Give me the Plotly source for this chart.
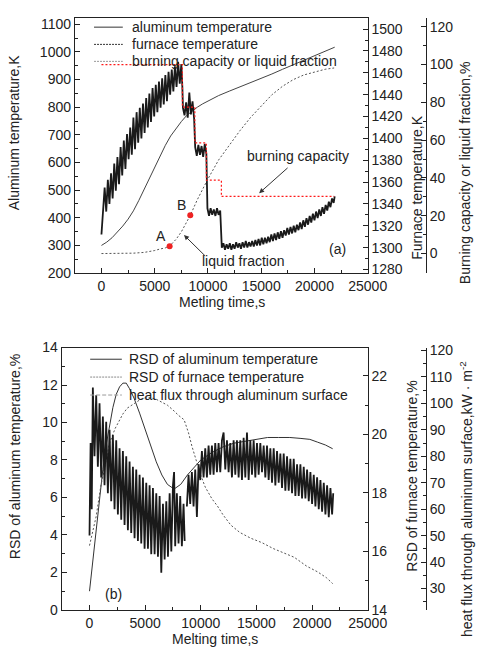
import plotly.graph_objects as go

# ---------------- top panel data ----------------
alu_time = [0, 500, 1000, 1500, 2000, 2500, 3000, 3500, 4000, 4500, 5000, 5500, 6000, 6500, 7000,
            7500, 8000, 8500, 9000, 9500, 10000, 11000, 12000, 13000, 14000, 15000, 16000, 17000,
            18000, 19000, 20000, 21000, 21900]
alu_temp = [300, 312, 328, 348, 370, 395, 425, 462, 502, 543, 585, 626, 662, 696, 723,
            748, 770, 786, 800, 812, 823, 842, 858, 873, 888, 903, 920, 937,
            953, 970, 986, 1001, 1017]

furnace_time = [0, 150, 300, 450, 600, 750, 900, 1050, 1200, 1350, 1500, 1650, 1800, 1950, 2100,
                2250, 2400, 2550, 2700, 2850, 3000, 3150, 3300, 3450, 3600, 3750, 3900, 4050, 4200,
                4350, 4500, 4650, 4800, 4950, 5100, 5250, 5400, 5550, 5700, 5850, 6000, 6150, 6300,
                6450, 6600, 6750, 6900, 7050, 7200, 7350, 7500,
                7600, 7650, 7800, 7950, 8100, 8250, 8400, 8550, 8700,
                8800, 8950, 9100, 9250, 9400, 9550, 9700, 9850,
                9950, 10100, 10250, 10400, 10550, 10700, 10850, 11000, 11150,
                11300, 11450, 11600, 11750, 11900, 12050, 12200, 12350, 12500, 12650, 12800, 12950,
                13100, 13250, 13400, 13550, 13700, 13850, 14000, 14150, 14300, 14450, 14600, 14750,
                14900, 15050, 15200, 15350, 15500, 15650, 15800, 15950, 16100, 16250, 16400, 16550,
                16700, 16850, 17000, 17150, 17300, 17450, 17600, 17750, 17900, 18050, 18200, 18350,
                18500, 18650, 18800, 18950, 19100, 19250, 19400, 19550, 19700, 19850, 20000, 20150,
                20300, 20450, 20600, 20750, 20900, 21050, 21200, 21350, 21500, 21650, 21800, 21900]
furnace_temp = [1312, 1330, 1355, 1333, 1362, 1340, 1368, 1345, 1377, 1352, 1383, 1358, 1392, 1366, 1398,
                1372, 1404, 1381, 1410, 1385, 1419, 1390, 1424, 1396, 1428, 1400, 1432, 1405, 1437,
                1410, 1441, 1415, 1446, 1420, 1449, 1424, 1452, 1428, 1455, 1431, 1458, 1434, 1461,
                1440, 1463, 1443, 1466, 1447, 1470, 1450, 1468,
                1446, 1428, 1421, 1433, 1419, 1442, 1422, 1434, 1418,
                1392, 1384, 1394, 1385, 1393, 1383, 1395, 1386,
                1336, 1329, 1336, 1330, 1335, 1329, 1336, 1330, 1334,
                1300, 1304, 1298, 1303, 1299, 1304, 1298, 1303, 1299, 1305, 1300, 1304,
                1299, 1305, 1300, 1306, 1300, 1305, 1301, 1306, 1301, 1307, 1302, 1308,
                1302, 1309, 1303, 1309, 1304, 1310, 1305, 1312, 1306, 1313, 1307, 1314,
                1308, 1315, 1309, 1316, 1311, 1318, 1312, 1319, 1313, 1320, 1314, 1321,
                1316, 1323, 1317, 1325, 1319, 1327, 1321, 1329, 1323, 1331, 1325, 1333,
                1327, 1335, 1329, 1337, 1331, 1339, 1334, 1342, 1337, 1345, 1341, 1347]

burn_time = [0, 7600, 8770, 9850, 11260, 21850]
burn_capacity = [100, 77.5, 58.6, 38.8, 30.2, 30.2]

liquid_time = [0, 1000, 2000, 3000, 4000, 4500, 5000, 5500, 6000, 6400, 7000, 7500, 8000, 8340,
               9000, 9500, 10000, 11000, 12000, 13000, 14000, 15000, 16000, 17000, 18000, 19000,
               20000, 21000, 21850]
liquid_fraction = [0, 0, 0, 0.2, 0.6, 1.0, 1.6, 2.4, 3.0, 4.0, 7.5, 11.5, 16.5, 20.2,
                   28.5, 34.0, 39.5, 49.5, 57.5, 65.0, 72.0, 78.0, 84.0, 88.5, 92.0, 94.5,
                   96.2, 97.5, 98.2]

point_labels = ["A", "B"]
point_time = [6400, 8340]
point_value = [3.8, 20.2]

top_legend = ["aluminum temperature", "furnace temperature", "burning capacity or liquid fraction"]

# ---------------- bottom panel data ----------------
rsd_alu_time = [0, 300, 600, 900, 1200, 1500, 1800, 2100, 2400, 2700, 3000, 3300, 3600, 4000, 4500,
                5000, 5500, 6000, 6500, 7000, 7600, 8200, 8800, 9400, 10000, 11000, 12000, 13000,
                14000, 15000, 16000, 17000, 18000, 19000, 19800, 20500, 21200, 21850]
rsd_alu = [1.0, 2.7, 4.4, 6.0, 7.5, 8.8, 9.9, 10.8, 11.5, 11.9, 12.1, 12.1, 11.8, 11.3, 10.5,
           9.6, 8.7, 7.9, 7.2, 6.7, 6.45, 6.7, 7.2, 7.6, 8.0, 8.4, 8.7, 8.9,
           9.0, 9.1, 9.2, 9.2, 9.2, 9.15, 9.1, 8.95, 8.8, 8.6]

rsd_fur_time = [0, 300, 600, 1000, 1400, 1800, 2300, 2700, 3000, 3400, 3800, 4200, 4600, 5000, 5500,
                6000, 6500, 7000, 7600, 8000, 8500, 8900, 9200, 9500, 10000, 10400, 11000, 11500,
                12000, 12700, 13500, 14500, 15500, 16500, 17500, 18400, 19500, 20500, 21300, 21850]
rsd_fur = [16.2, 16.7, 17.2, 18.2, 19.0, 19.7, 20.2, 20.5, 20.7, 20.9, 21.0, 21.1, 21.2, 21.25, 21.25,
           21.2, 21.1, 21.0, 20.8, 20.65, 20.5, 20.05, 19.6, 19.2, 18.6, 18.2, 17.8, 17.55,
           17.25, 16.9, 16.65, 16.45, 16.3, 16.1, 15.95, 15.8, 15.5, 15.3, 15.1, 14.9]

flux_time = [0, 100, 200, 300, 450, 600, 750, 900, 1050, 1200, 1350, 1500, 1650, 1800, 1950, 2100,
             2250, 2400, 2550, 2700, 2850, 3000, 3150, 3300, 3450, 3600, 3750, 3900, 4050, 4200,
             4350, 4500, 4650, 4800, 4950, 5100, 5250, 5400, 5550, 5700, 5850, 6000, 6150, 6300,
             6450, 6600, 6750, 6900, 7050, 7200, 7350, 7500, 7600, 7700, 7850, 8000, 8150, 8300,
             8450, 8550, 8620, 8750, 8900, 9050, 9200, 9350, 9500, 9650, 9800, 9950, 10100, 10250,
             10400, 10550, 10700, 10850, 11000, 11150, 11300, 11450, 11600, 11750, 11900, 12050,
             12200, 12350, 12500, 12650, 12800, 12950, 13100, 13250, 13400, 13550, 13700, 13850,
             14000, 14150, 14300, 14450, 14600, 14750, 14900, 15050, 15200, 15350, 15500, 15650,
             15800, 15950, 16100, 16250, 16400, 16550, 16700, 16850, 17000, 17150, 17300, 17450,
             17600, 17750, 17900, 18050, 18200, 18350, 18500, 18650, 18800, 18950, 19100, 19250,
             19400, 19550, 19700, 19850, 20000, 20150, 20300, 20450, 20600, 20750, 20900, 21050,
             21200, 21350, 21500, 21650, 21800, 21900]
heat_flux = [50, 85, 60, 106, 80, 103, 76, 100, 72, 95, 69, 93, 66, 90, 63, 88,
             60, 86, 58, 83, 56, 82, 54, 80, 52, 78, 51, 76, 49, 75,
             48, 73, 47, 72, 45, 70, 45, 69, 43, 68, 43, 66, 42, 65,
             36, 62, 41, 63, 42, 66, 44, 69, 74, 46, 66, 47, 65, 46,
             62, 48, None, 61, 73, 62, 74, 61, 75, 57, 77, 71, 82, 72,
             83, 72, 84, 73, 84, 73, 85, 74, 85, 74, 86, 89,
             75, 86, 74, 85, 72, 86, 73, 86, 72, 86, 71, 87,
             72, 89, 71, 86, 73, 86, 72, 85, 73, 85, 74, 84,
             72, 84, 71, 83, 70, 83, 69, 82, 70, 81, 68, 81,
             67, 80, 67, 79, 66, 79, 65, 77, 65, 77, 64, 76,
             64, 75, 63, 74, 62, 73, 61, 72, 60, 71, 59, 70,
             58, 69, 57, 68, 58, 66]

bottom_legend = ["RSD of aluminum temperature", "RSD of furnace temperature",
                 "heat flux through aluminum surface"]

# ---------------- figure ----------------
W, H = 492, 656
FONT = "Liberation Sans, Arial, sans-serif"
TXT = "#222222"

def px_x(p):
    return p / W

def px_y(p):
    return 1 - p / H

fig = go.Figure()

NOISE = dict(color="#1a1a1a", width=1.8)

# top panel traces
fig.add_trace(go.Scatter(x=alu_time, y=alu_temp, mode="lines", xaxis="x", yaxis="y",
                         line=dict(color="#444444", width=1), showlegend=False))
fig.add_trace(go.Scatter(x=furnace_time, y=furnace_temp, mode="lines", xaxis="x", yaxis="y2",
                         line=NOISE, showlegend=False))
fig.add_trace(go.Scatter(x=liquid_time, y=liquid_fraction, mode="lines", xaxis="x", yaxis="y3",
                         line=dict(color="#555555", width=1, dash="2px,2px"), showlegend=False))
fig.add_trace(go.Scatter(x=burn_time, y=burn_capacity, mode="lines", xaxis="x", yaxis="y3",
                         line=dict(color="#ff1a1a", width=1.2, dash="2px,2px", shape="hv"),
                         showlegend=False))
fig.add_trace(go.Scatter(x=point_time, y=point_value, mode="markers", xaxis="x", yaxis="y3",
                         marker=dict(color="#ee2222", size=6), showlegend=False))

# bottom panel traces
fig.add_trace(go.Scatter(x=rsd_alu_time, y=rsd_alu, mode="lines", xaxis="x2", yaxis="y4",
                         line=dict(color="#333333", width=1), showlegend=False))
fig.add_trace(go.Scatter(x=rsd_fur_time, y=rsd_fur, mode="lines", xaxis="x2", yaxis="y5",
                         line=dict(color="#555555", width=1, dash="2px,2px"), showlegend=False))
fig.add_trace(go.Scatter(x=flux_time, y=heat_flux, mode="lines", xaxis="x2", yaxis="y6",
                         line=NOISE, connectgaps=False, showlegend=False))

tickfont = dict(family=FONT, size=14, color=TXT)
base = dict(showgrid=False, zeroline=False, showline=True, linecolor="#222222", linewidth=1,
            tickfont=tickfont, tickcolor="#222222", tickwidth=1, tickformat="d")

top_x = [px_x(78), px_x(383.3)]
bot_x = [px_x(64.3), px_x(383.3)]
top_y = [px_y(271.7), px_y(10.7)]
bot_y = [px_y(617), px_y(348)]
third_pos = px_x(444)

def minor(dt, t0):
    return dict(ticks="inside", ticklen=3, dtick=dt, tick0=t0, tickcolor="#222222")

fig.update_layout(
    width=W, height=H, margin=dict(l=0, r=0, t=0, b=0),
    paper_bgcolor="white", plot_bgcolor="rgba(0,0,0,0)",
    font=dict(family=FONT, size=14, color=TXT),
    showlegend=False,
    xaxis=dict(base, domain=top_x, range=[-2500, 25000], anchor="y", mirror=True,
               ticks="inside", ticklen=5, dtick=5000, tick0=0, minor=minor(2500, 0)),
    yaxis=dict(base, domain=top_y, range=[200, 1121], anchor="x",
               ticks="inside", ticklen=5, dtick=100, tick0=0, minor=minor(50, 0)),
    yaxis2=dict(base, overlaying="y", side="right", anchor="x", range=[1276.7, 1509.8],
                ticks="inside", ticklen=5, dtick=20, tick0=1280, minor=minor(10, 1280)),
    yaxis3=dict(base, overlaying="y", side="right", anchor="free", position=third_pos,
                range=[-10.33, 124.4], ticks="inside", ticklen=5, dtick=20, tick0=0,
                minor=minor(10, 0)),
    xaxis2=dict(base, domain=bot_x, range=[-2500, 25000], anchor="y4", mirror=True,
                ticks="inside", ticklen=5, dtick=5000, tick0=0, minor=minor(2500, 0)),
    yaxis4=dict(base, domain=bot_y, range=[0, 14], anchor="x2",
                ticks="inside", ticklen=5, dtick=2, tick0=0, minor=minor(1, 0)),
    yaxis5=dict(base, overlaying="y4", side="right", anchor="x2", range=[14, 22.97],
                ticks="inside", ticklen=5, dtick=2, tick0=14, minor=minor(1, 14)),
    yaxis6=dict(base, overlaying="y4", side="right", anchor="free", position=third_pos,
                range=[21.9, 121.1], ticks="inside", ticklen=5, dtick=10, tick0=0,
                minor=minor(5, 0)),
)

def text_ann(text, x, y, angle=0, size=14, color=TXT, xanchor="center"):
    fig.add_annotation(text=text, x=px_x(x), y=px_y(y), xref="paper", yref="paper",
                       showarrow=False, textangle=angle, xanchor=xanchor, yanchor="middle",
                       font=dict(family=FONT, size=size, color=color))

def legend_line(x0, x1, y, color, dash, width=1):
    fig.add_shape(type="line", xref="paper", yref="paper", x0=px_x(x0), x1=px_x(x1),
                  y0=px_y(y), y1=px_y(y), line=dict(color=color, width=width, dash=dash))

# manual legends (top)
top_rows = [19.7, 37.3, 54.7]
top_styles = [("#777777", "solid", 1.5), ("#333333", "2px,1px", 1), ("#999999", "2px,1px", 1)]
for name, yy, (c, d, w) in zip(top_legend, top_rows, top_styles):
    legend_line(98, 128, yy, c, d, w)
    text_ann(name, 135, yy, xanchor="left")

# manual legends (bottom)
bot_rows = [360, 378.3, 396.7]
bot_styles = [("#333333", "solid", 1), ("#888888", "2px,1px", 1), ("#999999", "4px,2px", 1)]
for name, yy, (c, d, w) in zip(bottom_legend, bot_rows, bot_styles):
    legend_line(94, 127, yy, c, d, w)
    text_ann(name, 132, yy, xanchor="left")

# axis titles
text_ann("Aluminum temperature,K", 15, 127, -90)
text_ann("Furnace temperature,K", 434, 184, -90)
text_ann("Burning capacity or liquid fraction,%", 485, 169, -90)
text_ann("Metling time,s", 231, 301)
text_ann("RSD of aluminum temperature,%", 15, 460, -90)
text_ann("RSD of furnace temperature,%", 430, 480, -90)
text_ann("heat flux through aluminum surface,kW · m<sup>-2</sup>", 486, 503, -90)
text_ann("Melting time,s", 224, 647)

# panel annotations
text_ann("(a)", 352, 247)
text_ann("(b)", 118, 601)
text_ann("liquid fraction", 254, 259.5)
text_ann("burning capacity", 311, 151.7)
for lab, t, v in zip(point_labels, point_time, point_value):
    fig.add_annotation(text=lab, x=t, y=v, xref="x", yref="y3", showarrow=False,
                       xanchor="right", yanchor="bottom", xshift=-2, yshift=0,
                       font=dict(family=FONT, size=14, color=TXT))

# arrows
fig.add_annotation(x=7748, y=9.8, xref="x", yref="y3", ax=22.6, ay=22.3, text="",
                   showarrow=True, arrowhead=2, arrowsize=1, arrowwidth=1, arrowcolor="#333333")
fig.add_annotation(x=14802, y=31.9, xref="x", yref="y3", ax=30, ay=-26.7, text="",
                   showarrow=True, arrowhead=2, arrowsize=1, arrowwidth=1, arrowcolor="#333333")

fig.write_html("out.html", config={"displayModeBar": False},
               post_script="document.body.style.margin='0px';")
